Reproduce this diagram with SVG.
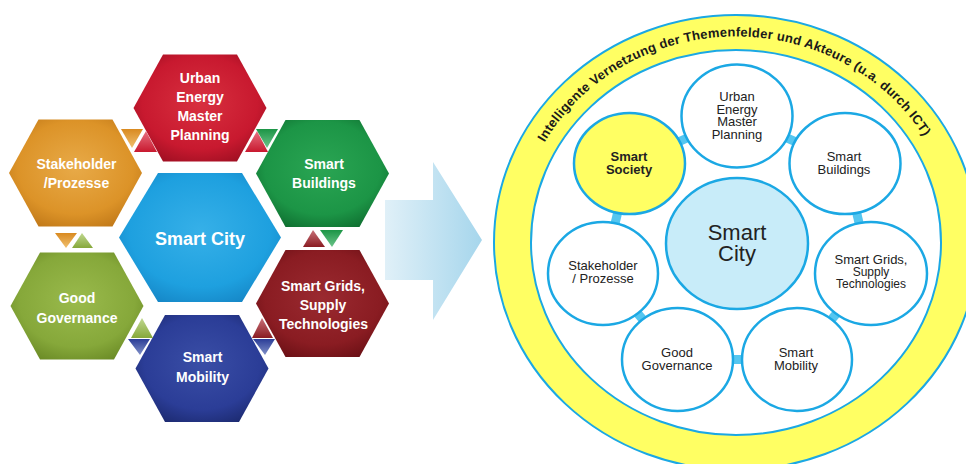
<svg xmlns="http://www.w3.org/2000/svg" xmlns:xlink="http://www.w3.org/1999/xlink" width="966" height="464" viewBox="0 0 966 464">
<style>
.hx{font-family:"Liberation Sans",Arial,sans-serif;font-weight:bold;font-size:14px;fill:#ffffff;text-anchor:middle}
.hxc{font-size:18px}
.cl{fill:#ffffff;stroke:#1ba8e4;stroke-width:2.5}
.ct{font-family:"Liberation Sans",Arial,sans-serif;font-size:13px;fill:#222222;text-anchor:middle}
.sm{font-size:12px}
.bd{font-weight:bold}
.big{font-size:22px}
.bar{stroke:#55c6f0;stroke-width:9;fill:none}
.ring{stroke:#1ba8e4;stroke-width:2}
.arc{font-family:"Liberation Sans",Arial,sans-serif;font-weight:bold;font-size:13px;fill:#1a1a1a;letter-spacing:0.25px}
</style>
<defs>
<path id="hexS" d="M-66.5,0 L-37,-53.5 L37,-53.5 L66.5,0 L37,53.5 L-37,53.5Z"/>
<path id="hexL" d="M-81,0 L-42,-64.5 L42,-64.5 L81,0 L42,64.5 L-42,64.5Z"/>
<radialGradient id="gRed" cx="50%" cy="45%" r="62%"><stop offset="0" stop-color="#d8303f"/><stop offset="0.7" stop-color="#c8192f"/><stop offset="1" stop-color="#9e0f22"/></radialGradient>
<radialGradient id="gOra" cx="50%" cy="45%" r="62%"><stop offset="0" stop-color="#e8aa48"/><stop offset="0.7" stop-color="#dc9328"/><stop offset="1" stop-color="#c07818"/></radialGradient>
<radialGradient id="gGrn" cx="50%" cy="45%" r="62%"><stop offset="0" stop-color="#2aa553"/><stop offset="0.7" stop-color="#1c9546"/><stop offset="1" stop-color="#0f6e30"/></radialGradient>
<radialGradient id="gBlu" cx="50%" cy="45%" r="62%"><stop offset="0" stop-color="#36b0e8"/><stop offset="0.7" stop-color="#1ea0df"/><stop offset="1" stop-color="#1585c5"/></radialGradient>
<radialGradient id="gOli" cx="50%" cy="45%" r="62%"><stop offset="0" stop-color="#9aba4c"/><stop offset="0.7" stop-color="#86a83a"/><stop offset="1" stop-color="#6a8a25"/></radialGradient>
<radialGradient id="gNav" cx="50%" cy="45%" r="62%"><stop offset="0" stop-color="#3a4ea6"/><stop offset="0.7" stop-color="#2b3d97"/><stop offset="1" stop-color="#1c2a70"/></radialGradient>
<radialGradient id="gDrd" cx="50%" cy="45%" r="62%"><stop offset="0" stop-color="#9a2a30"/><stop offset="0.7" stop-color="#8a1c22"/><stop offset="1" stop-color="#6a1015"/></radialGradient>
<linearGradient id="tOra" x1="0" y1="0" x2="0" y2="1"><stop offset="0" stop-color="#d98a20"/><stop offset="1" stop-color="#f0c070"/></linearGradient>
<linearGradient id="tRed" x1="0" y1="0" x2="0" y2="1"><stop offset="0" stop-color="#e87080"/><stop offset="1" stop-color="#c8192f"/></linearGradient>
<linearGradient id="tGrn" x1="0" y1="0" x2="0" y2="1"><stop offset="0" stop-color="#1c9546"/><stop offset="1" stop-color="#6cc48a"/></linearGradient>
<linearGradient id="tDrd" x1="0" y1="0" x2="0" y2="1"><stop offset="0" stop-color="#c87078"/><stop offset="1" stop-color="#8a1c22"/></linearGradient>
<linearGradient id="tOli" x1="0" y1="0" x2="0" y2="1"><stop offset="0" stop-color="#c0d890"/><stop offset="1" stop-color="#86a83a"/></linearGradient>
<linearGradient id="tNav" x1="0" y1="0" x2="0" y2="1"><stop offset="0" stop-color="#2b3d97"/><stop offset="1" stop-color="#8090c8"/></linearGradient>
<linearGradient id="gArrow" x1="0" y1="0" x2="1" y2="0"><stop offset="0" stop-color="#e0f0f8"/><stop offset="1" stop-color="#a6d6ec"/></linearGradient>
<path id="arcPath" d="M517,242.5 A219,206 0 0 1 955,242.5"/>
</defs>

<!-- Left: hexagon cluster -->
<g id="hex-urban"><use xlink:href="#hexS" x="200" y="108" fill="url(#gRed)"/>
<text class="hx" x="200" y="83">Urban</text><text class="hx" x="200" y="102">Energy</text><text class="hx" x="200" y="121">Master</text><text class="hx" x="200" y="140">Planning</text></g>
<g id="hex-stakeholder"><use xlink:href="#hexS" x="75.5" y="173" fill="url(#gOra)"/>
<text class="hx" x="76.5" y="169">Stakeholder</text><text class="hx" x="76.5" y="188">/Prozesse</text></g>
<g id="hex-buildings"><use xlink:href="#hexS" x="322.5" y="173.5" fill="url(#gGrn)"/>
<text class="hx" x="324" y="169">Smart</text><text class="hx" x="324" y="188">Buildings</text></g>
<g id="hex-city"><use xlink:href="#hexL" x="200" y="237.5" fill="url(#gBlu)"/>
<text class="hx hxc" x="200" y="245">Smart City</text></g>
<g id="hex-governance"><use xlink:href="#hexS" x="77" y="306" fill="url(#gOli)"/>
<text class="hx" x="77" y="303">Good</text><text class="hx" x="77" y="322.5">Governance</text></g>
<g id="hex-grids"><use xlink:href="#hexS" x="322.5" y="303.5" fill="url(#gDrd)"/>
<text class="hx" x="323" y="291">Smart Grids,</text><text class="hx" x="323" y="310">Supply</text><text class="hx" x="323.5" y="329">Technologies</text></g>
<g id="hex-mobility"><use xlink:href="#hexS" x="202" y="368.5" fill="url(#gNav)"/>
<text class="hx" x="202.5" y="362">Smart</text><text class="hx" x="202.5" y="381.5">Mobility</text></g>

<g id="triangles">
<polygon points="121,129 143,129 132,148" fill="url(#tOra)"/>
<polygon points="146,131 134,152 157,152" fill="url(#tRed)"/>
<polygon points="257,131 245,152 268,152" fill="url(#tRed)"/>
<polygon points="256,129 278,129 267,148" fill="url(#tGrn)"/>
<polygon points="313,230 303,247 325,247" fill="url(#tDrd)"/>
<polygon points="320,230 343,230 332,247" fill="url(#tGrn)"/>
<polygon points="55,233 77,233 66,248" fill="url(#tOra)"/>
<polygon points="82,233 72,248 93,248" fill="url(#tOli)"/>
<polygon points="142,318 131,338 153,338" fill="url(#tOli)"/>
<polygon points="128,339 150,339 140,355" fill="url(#tNav)"/>
<polygon points="262,318 252,338 273,338" fill="url(#tDrd)"/>
<polygon points="253,339 275,339 265,355" fill="url(#tNav)"/>
</g>

<!-- Big arrow -->
<g id="arrow"><polygon points="385,200 433,200 433,162 482,240 433,320 433,280 385,280" fill="url(#gArrow)"/></g>

<!-- Right: ring -->
<g id="ring">
<ellipse class="ring" cx="736" cy="242.5" rx="242" ry="227.5" fill="#ffff63"/>
<ellipse class="ring" cx="736" cy="242.5" rx="205" ry="192.5" fill="#ffffff"/>
<text class="arc"><textPath xlink:href="#arcPath" startOffset="49.5%" text-anchor="middle">Intelligente Vernetzung der Themenfelder und Akteure (u.a. durch ICT)</textPath></text>
</g>

<g id="connectors">
<line class="bar" x1="629.5" y1="163.5" x2="737" y2="116"/>
<line class="bar" x1="737" y1="116" x2="845" y2="163.5"/>
<line class="bar" x1="845" y1="163.5" x2="871" y2="273.5"/>
<line class="bar" x1="871" y1="273.5" x2="797" y2="359.5"/>
<line class="bar" x1="797" y1="359.5" x2="677.5" y2="359.5"/>
<line class="bar" x1="677.5" y1="359.5" x2="603" y2="273.5"/>
<line class="bar" x1="603" y1="273.5" x2="629.5" y2="163.5"/>
</g>

<g id="c-urban"><ellipse class="cl" cx="737" cy="116" rx="55.5" ry="51.5"/>
<text class="ct" x="737" y="101">Urban</text><text class="ct" x="737" y="113.7">Energy</text><text class="ct" x="737" y="126.4">Master</text><text class="ct" x="737" y="139">Planning</text></g>
<g id="c-society"><ellipse class="cl" cx="629.5" cy="163.5" rx="55.5" ry="50.5" style="fill:#ffff63"/>
<text class="ct bd" x="629" y="161">Smart</text><text class="ct bd" x="629" y="174">Society</text></g>
<g id="c-buildings"><ellipse class="cl" cx="845" cy="163.5" rx="55.5" ry="50.5"/>
<text class="ct" x="844" y="161">Smart</text><text class="ct" x="844" y="174">Buildings</text></g>
<g id="c-city"><ellipse class="cl" cx="737" cy="243.5" rx="71" ry="65.5" style="fill:#c8ecf9"/>
<text class="ct big" x="737" y="240">Smart</text><text class="ct big" x="737" y="261">City</text></g>
<g id="c-stakeholder"><ellipse class="cl" cx="603" cy="273.5" rx="55" ry="51.5"/>
<text class="ct" x="603" y="270">Stakeholder</text><text class="ct" x="603" y="283">/ Prozesse</text></g>
<g id="c-grids"><ellipse class="cl" cx="871" cy="273.5" rx="56" ry="51.5"/>
<text class="ct" x="871" y="264">Smart Grids,</text><text class="ct sm" x="871" y="276">Supply</text><text class="ct sm" x="871" y="287.5">Technologies</text></g>
<g id="c-governance"><ellipse class="cl" cx="677.5" cy="359.5" rx="55.5" ry="51.5"/>
<text class="ct" x="677" y="357">Good</text><text class="ct" x="677" y="369.5">Governance</text></g>
<g id="c-mobility"><ellipse class="cl" cx="797" cy="359.5" rx="55" ry="51.5"/>
<text class="ct" x="796" y="357">Smart</text><text class="ct" x="796" y="369.5">Mobility</text></g>
</svg>
